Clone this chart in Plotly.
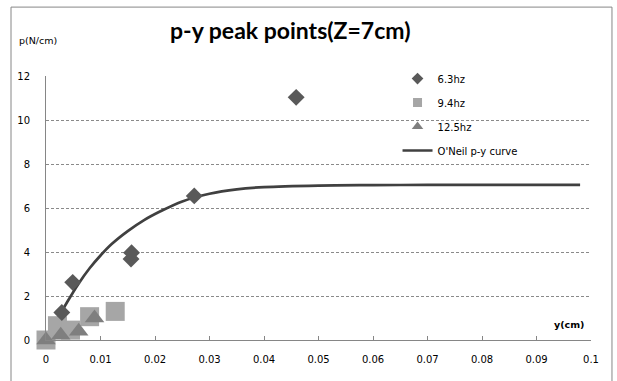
import plotly.graph_objects as go

# 6.3 hz peak points
x_63 = [0.0029, 0.0049, 0.0156, 0.0157, 0.0272, 0.0459]
y_63 = [1.25, 2.62, 3.68, 3.97, 6.55, 11.03]
# 9.4 hz peak points
x_94 = [0.0, 0.0021, 0.0045, 0.0080, 0.0127]
y_94 = [0.0, 0.65, 0.45, 1.06, 1.30]
# 12.5 hz peak points
x_125 = [0.0, 0.0027, 0.0060, 0.0089]
y_125 = [0.0, 0.22, 0.40, 1.00]
# O'Neil p-y curve
x_curve = [0, 0.002, 0.004, 0.006, 0.008, 0.010, 0.012, 0.015, 0.018, 0.021,
           0.025, 0.030, 0.035, 0.040, 0.050, 0.060, 0.070, 0.080, 0.090, 0.098]
y_curve = [0, 0.90, 1.77, 2.57, 3.26, 3.84, 4.35, 4.95, 5.45, 5.85,
           6.30, 6.65, 6.85, 6.95, 7.02, 7.04, 7.05, 7.05, 7.05, 7.05]

title_text = "p-y peak points(Z=7cm)"
y_label = "p(N/cm)"
x_label = "y(cm)"
x_ticks = [0, 0.01, 0.02, 0.03, 0.04, 0.05, 0.06, 0.07, 0.08, 0.09, 0.1]
x_tick_text = ["0", "0.01", "0.02", "0.03", "0.04", "0.05", "0.06", "0.07", "0.08", "0.09", "0.1"]
y_ticks = [0, 2, 4, 6, 8, 10, 12]

C63, C94, C125, CLINE = "#595959", "#a6a6a6", "#7f7f7f", "#404040"

fig = go.Figure()
fig.add_trace(go.Scatter(x=x_curve, y=y_curve, mode="lines", line=dict(color=CLINE, width=2.7, shape="spline"),
                         showlegend=False, cliponaxis=False))
fig.add_trace(go.Scatter(x=x_94, y=y_94, mode="markers", marker=dict(symbol="square", size=19, color=C94),
                         showlegend=False, cliponaxis=False))
fig.add_trace(go.Scatter(x=x_125, y=y_125, mode="markers", marker=dict(symbol="triangle-up", size=17, color=C125),
                         showlegend=False, cliponaxis=False))
fig.add_trace(go.Scatter(x=x_63, y=y_63, mode="markers", marker=dict(symbol="diamond", size=13, color=C63),
                         showlegend=False, cliponaxis=False))

# legend entries
fig.add_trace(go.Scatter(x=[None], y=[None], mode="markers", name="6.3hz", legendgroup="a",
                         marker=dict(symbol="diamond", size=9, color=C63)))
fig.add_trace(go.Scatter(x=[None], y=[None], mode="markers", name="9.4hz", legendgroup="b",
                         marker=dict(symbol="square", size=9, color=C94)))
fig.add_trace(go.Scatter(x=[None], y=[None], mode="markers", name="12.5hz", legendgroup="c",
                         marker=dict(symbol="triangle-up", size=10, color=C125)))
fig.add_trace(go.Scatter(x=[None], y=[None], mode="lines", name="O'Neil p-y curve", legendgroup="d",
                         line=dict(color=CLINE, width=2.5)))

fig.update_layout(
    width=617, height=381,
    margin=dict(l=46, r=26, t=76, b=41),
    paper_bgcolor="white", plot_bgcolor="white",
    font=dict(family="DejaVu Sans", size=10, color="#000000"),
    showlegend=True,
    legend=dict(x=0.645, y=1.045, xanchor="left", yanchor="top", bgcolor="rgba(0,0,0,0)",
                font=dict(family="DejaVu Sans", size=10), tracegroupgap=5, itemwidth=30),
    xaxis=dict(range=[0, 0.1], tickvals=x_ticks, ticktext=x_tick_text, showgrid=False, zeroline=False,
               showline=True, linecolor="#868686", linewidth=1, ticks="inside", ticklen=4,
               tickcolor="#868686", ticklabelstandoff=10),
    yaxis=dict(range=[0, 12], tickvals=y_ticks, showgrid=True, gridcolor="#8a8a8a", griddash="3px,2px",
               gridwidth=1, zeroline=False, showline=True, linecolor="#868686", linewidth=1,
               ticks="", ticklabelstandoff=13),
    annotations=[
        dict(text="<b>" + title_text + "</b>", xref="paper", yref="paper", x=0.448, y=1.175,
             showarrow=False, font=dict(family="Lato", size=23, color="#000000"), xanchor="center", yanchor="middle"),
        dict(text=y_label, xref="paper", yref="paper", x=-0.015, y=1.136, showarrow=False,
             font=dict(family="DejaVu Sans", size=9.5, color="#000000"), xanchor="center", yanchor="middle"),
        dict(text="<b>" + x_label + "</b>", xref="paper", yref="paper", x=0.96, y=0.057, showarrow=False,
             font=dict(family="DejaVu Sans", size=9.5, color="#000000"), xanchor="center", yanchor="middle"),
    ],
    shapes=[dict(type="rect", xref="paper", yref="paper", x0=-0.0642, x1=1.0385, y0=-0.17, y1=1.261,
                 line=dict(color="#868686", width=1), fillcolor="rgba(0,0,0,0)", layer="below")],
)
fig.write_html("out.html")
